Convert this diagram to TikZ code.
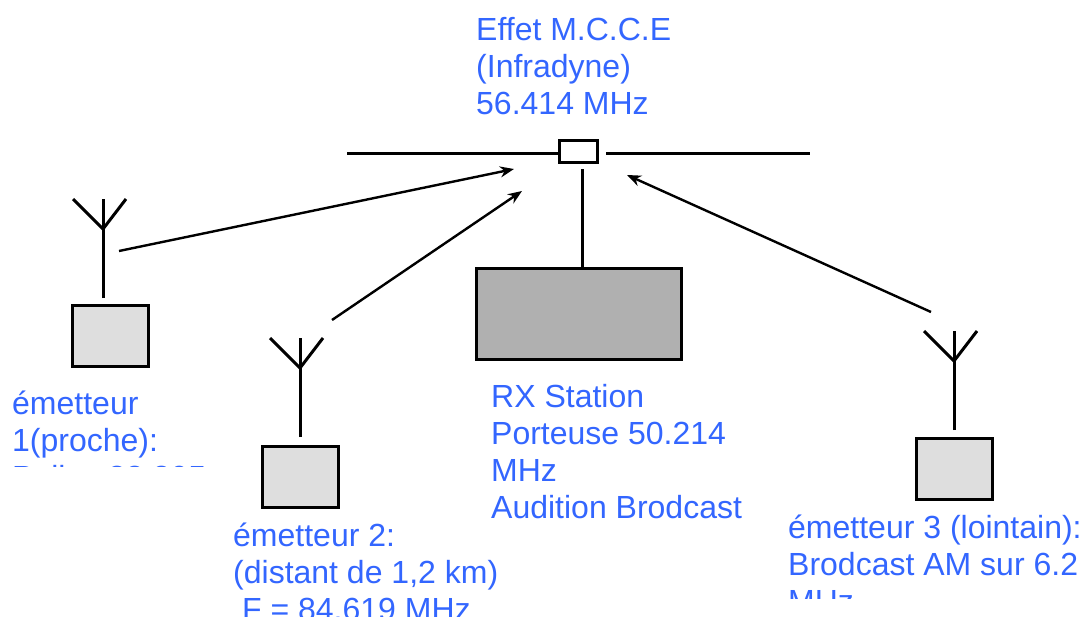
\documentclass[tikz,border=0pt]{standalone}
\usepackage{fontspec}
\setmainfont{Liberation Sans}
\usetikzlibrary{arrows.meta}
\definecolor{bleutexte}{RGB}{51,102,255}
\tikzset{
	x=1pt, y=-1pt,
	texte/.style={anchor=north west, inner sep=0pt, align=left, text=bleutexte,
		font=\fontsize{32}{37}\selectfont},
	trait/.style={line width=3pt, black},
	boite/.style={draw=black, line width=3pt, fill=black!13, inner sep=0pt, minimum width=76pt, minimum height=61pt},
	fleche/.style={line width=2.4pt, -{Stealth[length=14pt,width=11pt]}},
}
\begin{document}
\begin{tikzpicture}
	\useasboundingbox (0,0) rectangle (1082,616);

% antenne de reception
	\coordinate (brasg) at (347,153);
	\coordinate (brasd) at (810,153);
	\coordinate (gaped) at (606,153);
	\node[draw=black, line width=3pt, inner sep=0pt, minimum width=38pt, minimum height=22pt] (dipole) at (578,151) {};
	\draw[trait] (brasg) -- (dipole.west |- brasg);
	\draw[trait] (gaped) -- (brasd);
	\node[draw=black, line width=3pt, fill=black!31, inner sep=0pt, minimum width=205pt, minimum height=91pt] (rx) at (578.5,314) {};
	\coordinate (piedhaut) at (582,169);
	\draw[trait] (piedhaut) -- (piedhaut |- rx.north);

% emetteurs
	\node[boite] (em1) at (110.5,335.5) {};
	\node[boite] (em2) at (300.5,476.5) {};
	\node[boite] (em3) at (954.5,468.5) {};
	\foreach \nom/\x/\yh/\yb in {a/103/229/298, b/300/368/437, c/954/361/430} {
		\coordinate (\nom h) at (\x,\yh);
		\coordinate (\nom b) at (\x,\yb);
		\coordinate (\nom m) at (\x,\yh-30);
		\coordinate (\nom g) at (\x-30,\yh-30);
		\coordinate (\nom d) at (\x+23,\yh-30);
		\draw[trait] (\nom b) -- (\nom m);
		\draw[trait] (\nom g) -- (\nom h) -- (\nom d);
	}

% fleches
	\coordinate (dep1) at (119,251);
	\coordinate (arr1) at (514,169);
	\coordinate (dep2) at (332,320);
	\coordinate (arr2) at (522,191);
	\coordinate (dep3) at (931,312);
	\coordinate (arr3) at (627,175);
	\draw[fleche] (dep1) -- (arr1);
	\draw[fleche] (dep2) -- (arr2);
	\draw[fleche] (dep3) -- (arr3);

% textes
	\node[texte] (titre) at (476,17) {Effet M.C.C.E\\(Infradyne)\\56.414 MHz};
	\node[texte] (station) at (491,384) {RX Station\\Porteuse 50.214\\MHz\\Audition Brodcast};
	\begin{scope}
		\clip (0,380) rectangle (300,466);
		\node[texte] (texte1) at (12,391) {émetteur\\1(proche):\\Pallas 88.805};
	\end{scope}
	\begin{scope}
		\clip (220,510) rectangle (520,616);
		\node[texte] (texte2) at (233,523) {émetteur 2:\\(distant de 1,2 km)\\\ F = 84.619 MHz};
	\end{scope}
	\begin{scope}
		\clip (770,505) rectangle (1082,598);
		\node[texte] (texte3) at (788,515) {émetteur 3 (lointain):\\Brodcast AM sur 6.2\\MHz};
	\end{scope}
\end{tikzpicture}
\end{document}
